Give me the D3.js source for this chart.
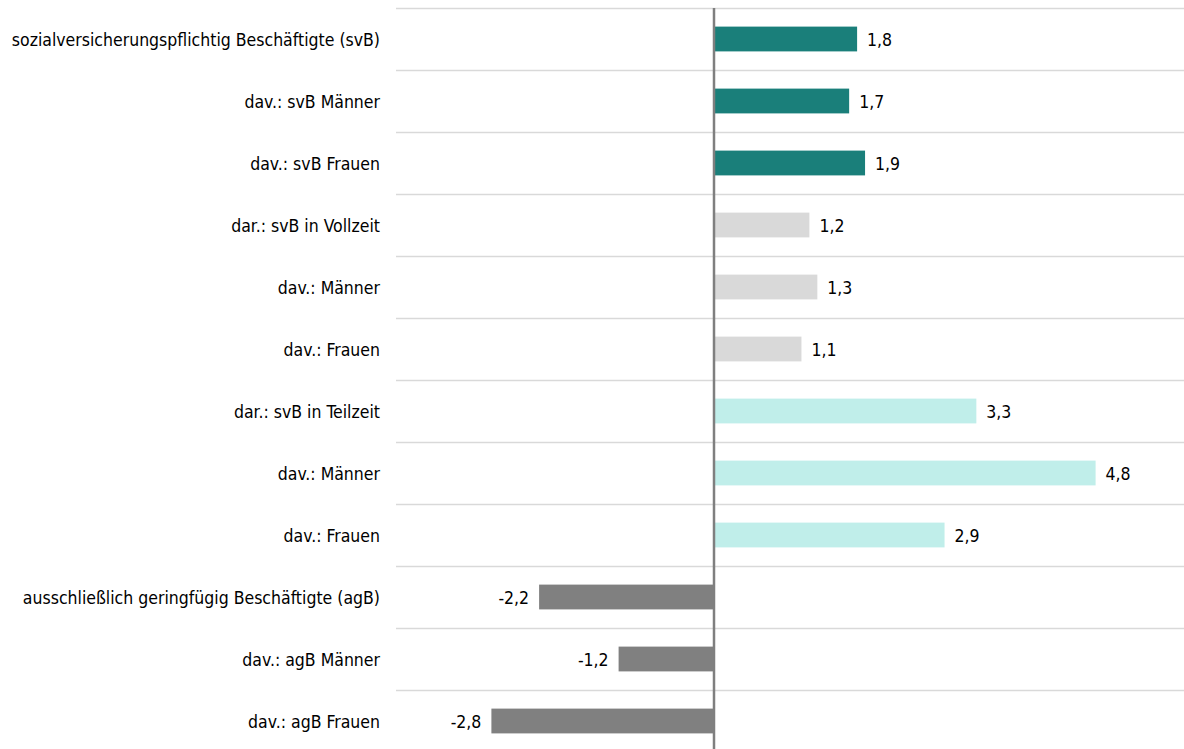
<!DOCTYPE html>
<html><head><meta charset="utf-8">
<script src="https://cdn.jsdelivr.net/npm/d3@7"></script>
<style>
body{margin:0;background:#fff;}
svg{display:block;}
text{font-family:"DejaVu Sans Condensed","DejaVu Sans",sans-serif;font-stretch:condensed;font-size:17.5px;fill:#000;}
</style></head>
<body><svg id="c" width="1184" height="749"></svg>
<script>
const categories = [
  "sozialversicherungspflichtig Beschäftigte (svB)",
  "dav.: svB Männer",
  "dav.: svB Frauen",
  "dar.: svB in Vollzeit",
  "dav.: Männer",
  "dav.: Frauen",
  "dar.: svB in Teilzeit",
  "dav.: Männer",
  "dav.: Frauen",
  "ausschließlich geringfügig Beschäftigte (agB)",
  "dav.: agB Männer",
  "dav.: agB Frauen"
];
const values = [1.8, 1.7, 1.9, 1.2, 1.3, 1.1, 3.3, 4.8, 2.9, -2.2, -1.2, -2.8];
const groups = ["svB","svB","svB","vz","vz","vz","tz","tz","tz","agB","agB","agB"];
const groupColors = {svB:"#1a7f7a", vz:"#d9d9d9", tz:"#c0eeea", agB:"#808080"};

const W = 1184, H = 749;
const svg = d3.select("#c");
const ids = categories.map((c,i)=>i);
const y = d3.scaleBand().domain(ids).range([8, 752]).paddingInner(0.6).paddingOuter(0.3);
const x = d3.scaleLinear().domain([-4, 6]).range([396, 1191]);

const step = y.step();
const rowTop = ids.map(i => y(i) - 0.3*step);
svg.append("g").selectAll("line").data(rowTop).join("line")
  .attr("x1", x(-4)).attr("x2", W)
  .attr("y1", d=>Math.round(d)+0.5).attr("y2", d=>Math.round(d)+0.5)
  .attr("stroke", "#d9d9d9").attr("stroke-width", 1.5);

svg.append("g").selectAll("rect").data(values).join("rect")
  .attr("x", d => x(Math.min(0,d)))
  .attr("width", d => Math.abs(x(d)-x(0)))
  .attr("y", (d,i) => y(i))
  .attr("height", y.bandwidth())
  .attr("fill", (d,i) => groupColors[groups[i]]);

svg.append("line").attr("x1", x(0)).attr("x2", x(0)).attr("y1", 8).attr("y2", H)
  .attr("stroke", "#7f7f7f").attr("stroke-width", 2.5);

const fmt = v => d3.format(".1f")(v).replace(".", ",").replace("−","-");
svg.append("g").selectAll("text").data(categories).join("text")
  .attr("x", 380).attr("y", (d,i) => y(i) + y.bandwidth()/2 + 1)
  .attr("text-anchor", "end").attr("dominant-baseline", "central")
  .text(d => d);

svg.append("g").selectAll("text").data(values).join("text")
  .attr("x", d => d >= 0 ? x(d) + 10 : x(d) - 10)
  .attr("y", (d,i) => y(i) + y.bandwidth()/2 + 1)
  .attr("text-anchor", d => d >= 0 ? "start" : "end")
  .attr("dominant-baseline", "central")
  .text(d => fmt(d));
</script></body></html>
